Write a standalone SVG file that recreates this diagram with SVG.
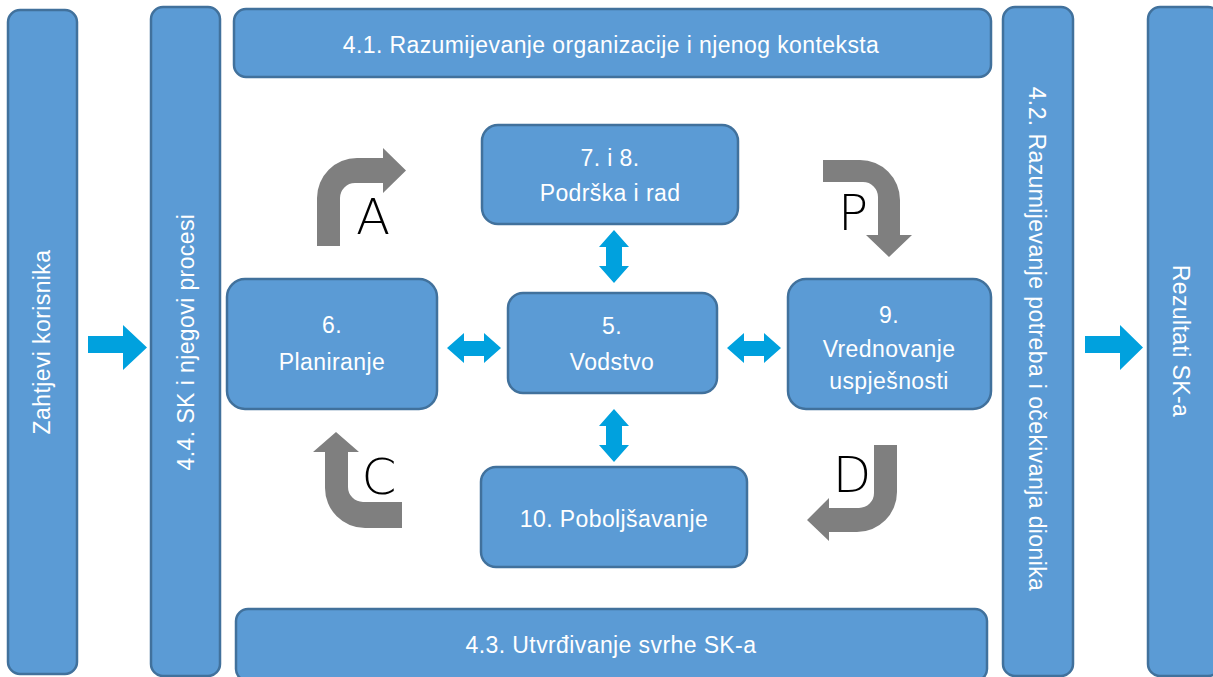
<svg xmlns="http://www.w3.org/2000/svg" width="1213" height="677" viewBox="0 0 1213 677">
<style>
.box{fill:#5B9BD5;stroke:#41719C;stroke-width:2.5}
.t{fill:#fff;font-family:"Liberation Sans",Arial,sans-serif;font-size:23px;text-anchor:middle;letter-spacing:0.4px}
.blue{fill:#00A1DE}
.gray{fill:#7F7F7F}
.let{fill:#000;font-family:"DejaVu Sans","Liberation Sans",sans-serif;font-weight:200;font-size:50px;text-anchor:middle}
</style>
<rect width="1213" height="677" fill="#fff"/>
<g id="zahtjevi">
<rect class="box" x="8" y="10" width="69" height="664" rx="12"/>
<text class="t" transform="translate(50,342) rotate(-90)">Zahtjevi korisnika</text>
</g>
<g id="sk-procesi">
<rect class="box" x="151" y="7" width="69" height="669" rx="12"/>
<text class="t" transform="translate(194,342) rotate(-90)">4.4. SK i njegovi procesi</text>
</g>
<g id="kontekst">
<rect class="box" x="234" y="9" width="757" height="68" rx="12"/>
<text class="t" x="611" y="53">4.1. Razumijevanje organizacije i njenog konteksta</text>
</g>
<g id="svrha">
<rect class="box" x="236" y="609" width="751" height="72" rx="12"/>
<text class="t" x="611" y="653">4.3. Utvrđivanje svrhe SK-a</text>
</g>
<g id="dionici">
<rect class="box" x="1003" y="7" width="70" height="669" rx="12"/>
<text class="t" transform="translate(1029,339) rotate(90)" letter-spacing="0.6">4.2. Razumijevanje potreba i očekivanja dionika</text>
</g>
<g id="rezultati">
<rect class="box" x="1148" y="7" width="72" height="669" rx="12"/>
<text class="t" transform="translate(1173,341) rotate(90)">Rezultati SK-a</text>
</g>
<g id="podrska">
<rect class="box" x="482" y="125" width="256" height="99" rx="16"/>
<text class="t" x="610" y="166">7. i 8.</text>
<text class="t" x="610" y="201">Podrška i rad</text>
</g>
<g id="planiranje">
<rect class="box" x="227" y="279" width="210" height="130" rx="18"/>
<text class="t" x="332" y="333">6.</text>
<text class="t" x="332" y="370">Planiranje</text>
</g>
<g id="vodstvo">
<rect class="box" x="508" y="293" width="209" height="100" rx="15"/>
<text class="t" x="612" y="334">5.</text>
<text class="t" x="612" y="370">Vodstvo</text>
</g>
<g id="vrednovanje">
<rect class="box" x="788" y="279" width="203" height="130" rx="18"/>
<text class="t" x="889" y="323">9.</text>
<text class="t" x="889" y="357">Vrednovanje</text>
<text class="t" x="889" y="389">uspješnosti</text>
</g>
<g id="poboljsavanje">
<rect class="box" x="481" y="467" width="266" height="100" rx="15"/>
<text class="t" x="614" y="527">10. Poboljšavanje</text>
</g>
<g id="connectors">
<path class="blue" d="M88,336 L123,336 L123,325 L147,347.5 L123,370 L123,353 L88,353 Z"/>
<path class="blue" d="M1085,336 L1120,336 L1120,325 L1143,347.5 L1120,370 L1120,353 L1085,353 Z"/>
<path class="blue" d="M614,230 L629,247 L622,247 L622,266 L629,266 L614,283 L599,266 L606,266 L606,247 L599,247 Z"/>
<path class="blue" d="M614,409 L629,426 L622,426 L622,445 L629,445 L614,462 L599,445 L606,445 L606,426 L599,426 Z"/>
<path class="blue" d="M447,348 L464,333 L464,341 L484,341 L484,333 L501,348 L484,363 L484,356 L464,356 L464,363 Z"/>
<path class="blue" d="M727,348 L744,333 L744,341 L764,341 L764,333 L781,348 L764,363 L764,356 L744,356 L744,363 Z"/>
<path class="gray" d="M317,246 L317,198 A40,40 0 0 1 357,158 L383,158 L383,148 L406,170.5 L383,193 L383,183 L355,183 A15,15 0 0 0 340,198 L340,246 Z"/>
<path class="gray" d="M823,160 L860,160 A40,40 0 0 1 900,200 L900,235 L912,235 L889,257 L866,235 L878,235 L878,197 A15,15 0 0 0 863,182 L823,182 Z"/>
<path class="gray" d="M336,432 L359,452 L348,452 L348,487 A15,15 0 0 0 363,502 L402,502 L402,528 L365,528 A40,40 0 0 1 325,488 L325,452 L313,452 Z"/>
<path class="gray" d="M874,445 L897,445 L897,492 A40,40 0 0 1 857,532 L829,532 L829,541 L807,520 L829,498 L829,508 L859,508 A15,15 0 0 0 874,493 Z"/>
</g>
<g id="letters">
<text class="let" x="373" y="234">A</text>
<text class="let" x="853" y="230">P</text>
<text class="let" x="379" y="494">C</text>
<text class="let" x="852" y="492">D</text>
</g>
</svg>
